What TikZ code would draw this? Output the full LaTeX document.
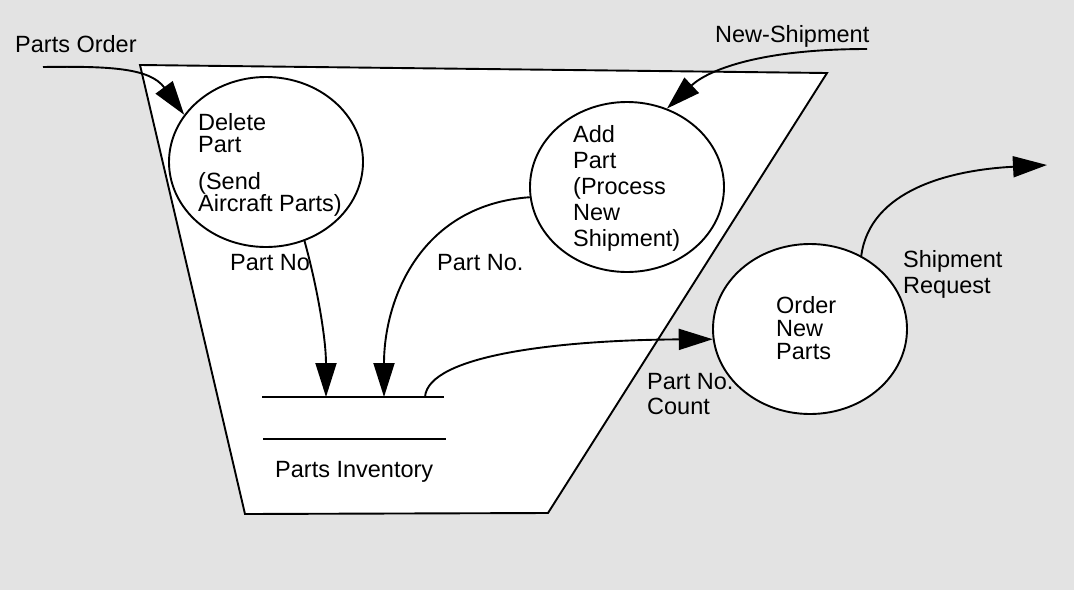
\documentclass[tikz,border=0pt]{standalone}
\usepackage{fontspec}
\setmainfont{Liberation Sans}
\usetikzlibrary{arrows.meta,shapes.geometric}
\definecolor{bggray}{gray}{0.89}
\begin{document}
\begin{tikzpicture}[x=1pt,y=-1pt,
  lw/.style={line width=1.9pt},
  proc/.style={draw, ellipse, line width=1.9pt, fill=white, minimum width=194pt, minimum height=170pt, inner sep=0pt},
  lbl/.style={inner sep=0pt, font=\fontsize{23.5}{26}\selectfont},
  flow/.style={line width=1.9pt, -{Triangle[length=34pt,width=21pt]}},
]
\fill[bggray] (0,0) rectangle (1074,590);
\useasboundingbox (0,0) rectangle (1074,590);
% system boundary
\draw[lw, fill=white, line join=miter] (140,65) -- (827,73) -- (548,513) -- (245,514) -- cycle;

% processes
\node[proc] (del) at (266,162) {};
\node[proc] (add) at (627,187) {};
\node[proc] (ord) at (810,329) {};

\node[lbl, align=left, anchor=north west, font=\fontsize{23.5}{22.5}\selectfont] (delT) at (198,113) {Delete\\Part\\[14pt](Send\\Aircraft Parts)};
\node[lbl, align=left, anchor=north west] (addT) at (573,125) {Add\\Part\\(Process\\New\\Shipment)};
\node[lbl, align=left, anchor=north west, font=\fontsize{23.5}{23}\selectfont] (ordT) at (776,296) {Order\\New\\Parts};

% data store
\coordinate (stL) at (262,397);
\coordinate (stR) at (444,397);
\coordinate (sbL) at (263,439);
\coordinate (sbR) at (446,439);
\draw[lw] (stL) -- (stR);
\draw[lw] (sbL) -- (sbR);
\node[lbl, anchor=base west] (invT) at (275,477) {Parts Inventory};
\coordinate (in1) at (326,397);
\coordinate (in2) at (384,397);
\coordinate (out) at (425,397);

% external ends
\coordinate (po) at (43,67);
\coordinate (ns) at (867,49);
\coordinate (sr) at (1047,165);

% flows
\draw[flow] (po) .. controls (110,66) and (150,68) .. (del.150);
\draw[flow] (ns) .. controls (760,49) and (708,70) .. (add.63);
\draw[flow] (del.-64) .. controls (318,290) and (326,340) .. (in1);
\draw[flow] (add.186) .. controls (420,205) and (384,300) .. (in2);
\draw[flow] (out) .. controls (428,355) and (560,340) .. (ord.186);
\draw[flow] (ord.55) .. controls (870,190) and (950,170) .. (sr);

% labels
\node[lbl, anchor=base west] (poT) at (15,52) {Parts Order};
\node[lbl, anchor=base west] (nsT) at (715,42) {New-Shipment};
\node[lbl, anchor=base west] (pn1) at (230,270) {Part No};
\node[lbl, anchor=base west] (pn2) at (437,270) {Part No.};
\node[lbl, align=left, anchor=north west, font=\fontsize{23.5}{25}\selectfont] (pnc) at (647,373) {Part No.\\Count};
\node[lbl, align=left, anchor=north west] (srT) at (903,250) {Shipment\\Request};
\end{tikzpicture}
\end{document}
